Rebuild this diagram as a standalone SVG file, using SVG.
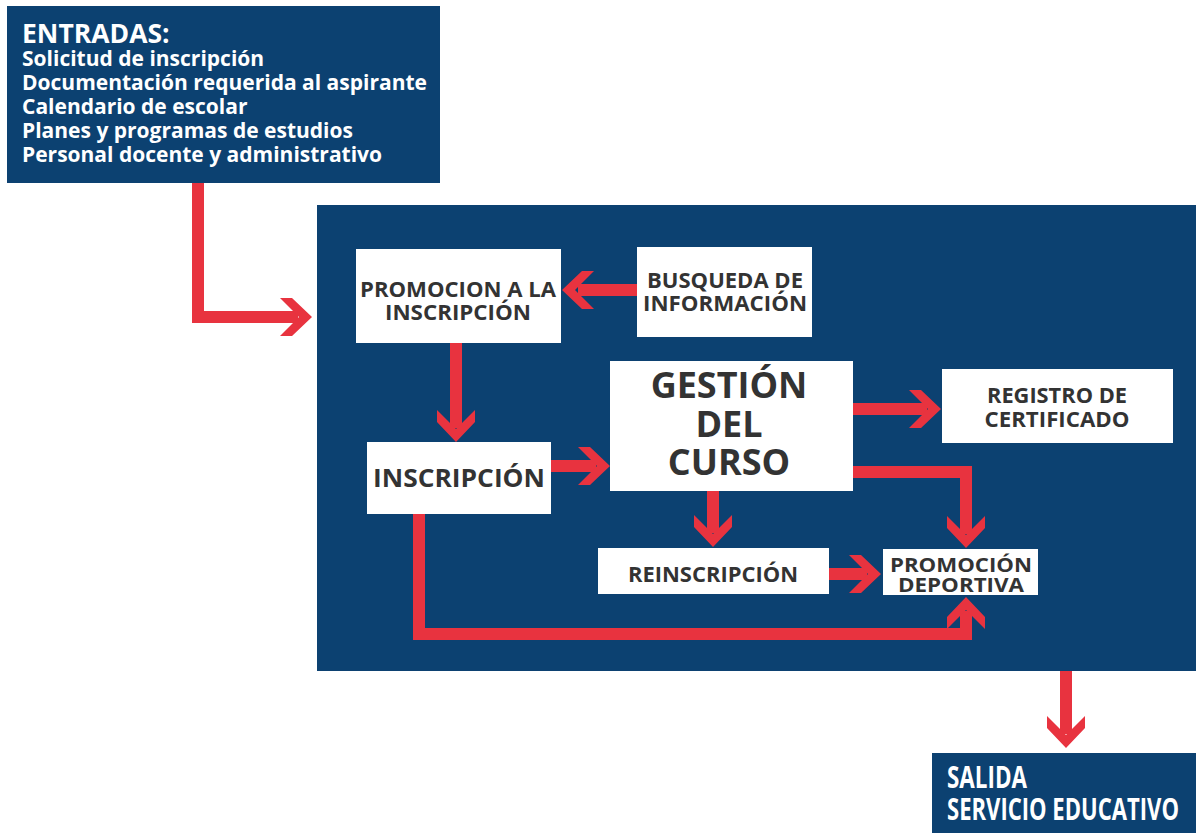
<svg xmlns="http://www.w3.org/2000/svg" xmlns:xlink="http://www.w3.org/1999/xlink" width="1196" height="833" viewBox="0 0 1196 833">
<style>
.blue{fill:#0c4171}
.box{fill:#ffffff}
.wt{fill:#ffffff;font-family:"Open Sans","Noto Sans",sans-serif;font-weight:bold}
.dk{fill:#333333;font-family:"Open Sans","Noto Sans",sans-serif;font-weight:bold;text-anchor:middle}
.cond{fill:#333333;font-family:"Open Sans","Noto Sans",sans-serif;font-weight:bold;text-anchor:middle}
.line{fill:none;stroke:#e8333f;stroke-width:12;stroke-linejoin:miter;stroke-linecap:butt}
.head{fill:#e8333f}
</style>
<defs>
<path id="ah" d="M-32,-19 L-20,-19 L0,0 L-20,19 L-32,19 L-13,0 Z"/>
</defs>
<rect x="0" y="0" width="1196" height="833" fill="#ffffff"/>

<g id="panel"><rect class="blue" x="317" y="205" width="879" height="466"/></g>

<g id="entradas">
<rect class="blue" x="7" y="6" width="433" height="177"/>
<text class="wt" x="22" y="43" font-size="26.5">ENTRADAS:</text>
<text class="wt" x="22" y="66" font-size="21">Solicitud de inscripción</text>
<text class="wt" x="22" y="90" font-size="21">Documentación requerida al aspirante</text>
<text class="wt" x="22" y="114" font-size="21">Calendario de escolar</text>
<text class="wt" x="22" y="138" font-size="21">Planes y programas de estudios</text>
<text class="wt" x="22" y="162" font-size="21">Personal docente y administrativo</text>
</g>

<g id="promocion-inscripcion">
<rect class="box" x="356" y="249" width="205" height="94"/>
<text class="dk" x="458" y="297" font-size="21.5" textLength="196" lengthAdjust="spacingAndGlyphs">PROMOCION A LA</text>
<text class="dk" x="458" y="320" font-size="21.5" textLength="146" lengthAdjust="spacingAndGlyphs">INSCRIPCIÓN</text>
</g>

<g id="busqueda">
<rect class="box" x="637" y="247" width="175" height="90"/>
<text class="dk" x="725" y="288" font-size="21.5" textLength="156" lengthAdjust="spacingAndGlyphs">BUSQUEDA DE</text>
<text class="dk" x="725" y="311" font-size="21.5" textLength="164" lengthAdjust="spacingAndGlyphs">INFORMACIÓN</text>
</g>

<g id="inscripcion">
<rect class="box" x="367" y="442" width="184" height="72"/>
<text class="dk" x="459" y="487" font-size="25" textLength="172" lengthAdjust="spacingAndGlyphs">INSCRIPCIÓN</text>
</g>

<g id="gestion">
<rect class="box" x="610" y="361" width="243" height="130"/>
<text class="dk" x="729" y="398" font-size="36">GESTIÓN</text>
<text class="dk" x="729" y="437" font-size="36">DEL</text>
<text class="dk" x="729" y="475" font-size="36">CURSO</text>
</g>

<g id="registro">
<rect class="box" x="942" y="369" width="231" height="74"/>
<text class="cond" x="1057" y="403" font-size="21" textLength="140" lengthAdjust="spacingAndGlyphs">REGISTRO DE</text>
<text class="cond" x="1057" y="427" font-size="21" textLength="145" lengthAdjust="spacingAndGlyphs">CERTIFICADO</text>
</g>

<g id="reinscripcion">
<rect class="box" x="598" y="548" width="231" height="46"/>
<text class="cond" x="713" y="582" font-size="21" textLength="170" lengthAdjust="spacingAndGlyphs">REINSCRIPCIÓN</text>
</g>

<g id="promocion-deportiva">
<rect class="box" x="883" y="549" width="155" height="46"/>
<text class="cond" x="961" y="572" font-size="19" textLength="142" lengthAdjust="spacingAndGlyphs">PROMOCIÓN</text>
<text class="cond" x="961" y="592" font-size="19" textLength="126" lengthAdjust="spacingAndGlyphs">DEPORTIVA</text>
</g>

<g id="salida">
<rect class="blue" x="932" y="753" width="264" height="80"/>
<text class="wt" x="947" y="788" font-size="30" textLength="80" lengthAdjust="spacingAndGlyphs" font-weight="normal">SALIDA</text>
<text class="wt" x="947" y="820" font-size="30" textLength="232" lengthAdjust="spacingAndGlyphs" font-weight="normal">SERVICIO EDUCATIVO</text>
</g>

<g id="connectors">
<path class="line" d="M198,183 V317 H298"/>
<use href="#ah" class="head" transform="translate(312,317)"/>

<path class="line" d="M637,290 H578"/>
<use href="#ah" class="head" transform="translate(562,290) rotate(180)"/>

<path class="line" d="M456,343 V428"/>
<use href="#ah" class="head" transform="translate(456,442) rotate(90)"/>

<path class="line" d="M551,466 H596"/>
<use href="#ah" class="head" transform="translate(610,466)"/>

<path class="line" d="M853,409 H927"/>
<use href="#ah" class="head" transform="translate(941,409)"/>

<path class="line" d="M853,472 H966 V534"/>
<use href="#ah" class="head" transform="translate(966,548) rotate(90)"/>

<path class="line" d="M713,491 V533"/>
<use href="#ah" class="head" transform="translate(713,547) rotate(90)"/>

<path class="line" d="M829,574 H867"/>
<use href="#ah" class="head" transform="translate(881,574)"/>

<path class="line" d="M419,514 V634 H966 V611"/>
<use href="#ah" class="head" transform="translate(966,597) rotate(-90)"/>

<path class="line" d="M1066,671 V734"/>
<use href="#ah" class="head" transform="translate(1066,748) rotate(90)"/>
</g>
</svg>
